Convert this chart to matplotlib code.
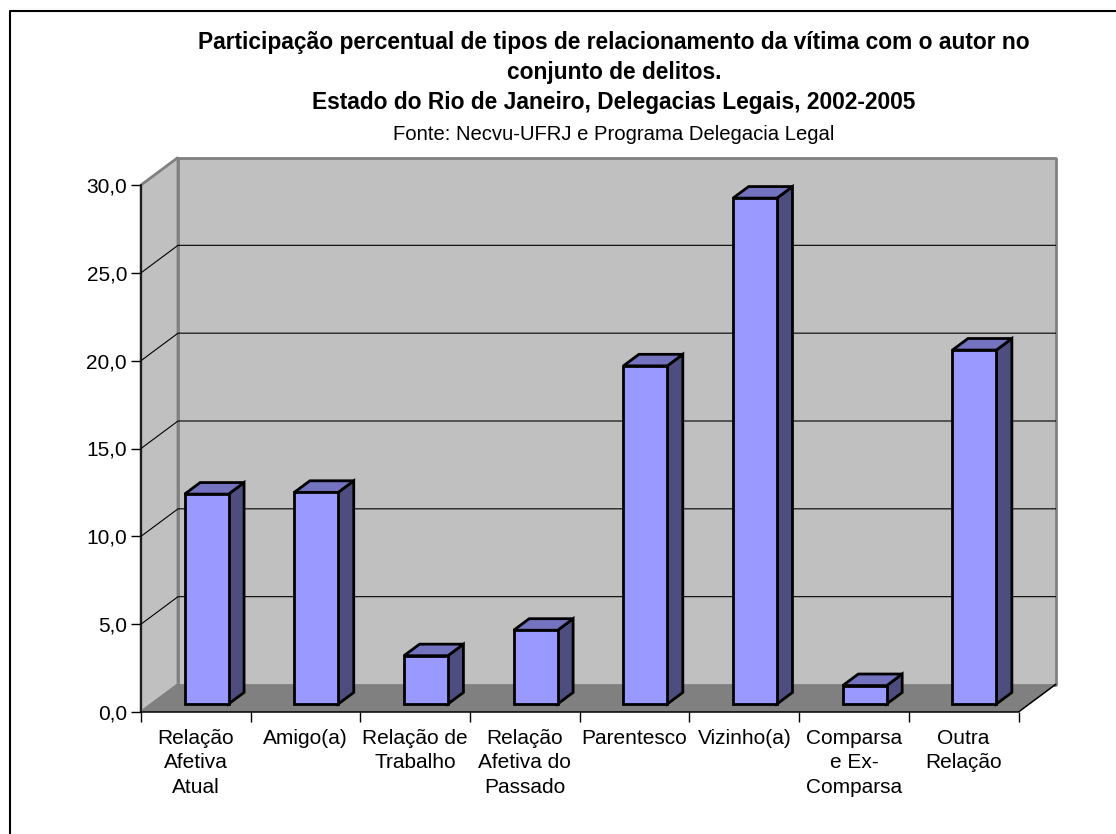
import matplotlib
matplotlib.use("Agg")
import matplotlib.pyplot as plt
from matplotlib.patches import Polygon

plt.rcParams['font.family'] = ['Liberation Sans', 'DejaVu Sans']

categories = ["Relação\nAfetiva\nAtual", "Amigo(a)", "Relação de\nTrabalho",
              "Relação\nAfetiva do\nPassado", "Parentesco", "Vizinho(a)",
              "Comparsa\ne Ex-\nComparsa", "Outra\nRelação"]
values = [11.95, 12.05, 2.75, 4.2, 19.25, 28.8, 1.05, 20.15]
yticks = [0, 5, 10, 15, 20, 25, 30]
title_lines = ["Participação percentual de tipos de relacionamento da vítima com o autor no",
               "conjunto de delitos.",
               "Estado do Rio de Janeiro, Delegacias Legais, 2002-2005"]
source = "Fonte: Necvu-UFRJ e Programa Delegacia Legal"

W, H = 1116, 834
fig = plt.figure(figsize=(W/100, H/100), dpi=100, facecolor='white')
# outer frame: only left and top edges are visible in the crop
fig.add_artist(plt.Line2D([10/W, 10/W, 1], [0, 1-11/H, 1-11/H], transform=fig.transFigure,
                          color='black', lw=1.5))
L, R, B, T = 141, 1018.5, 712, 185
ax = fig.add_axes([L/W, 1-B/H, (R-L)/W, (B-T)/H])
ax.set_xlim(0, 8); ax.set_ylim(0, 30)
ax.patch.set_visible(False)
for s in ax.spines.values():
    s.set_visible(False)

DX = 37/((R-L)/8)      # depth in category units
DY = 27.5/((B-T)/30)   # depth in value units

def add(pts, **kw):
    ax.add_patch(Polygon(pts, closed=True, clip_on=False, **kw))

wall = '#c0c0c0'; edge = '#808080'
add([(0, 0), (8, 0), (8+DX, DY), (DX, DY)], fc='#808080', ec='none', zorder=1)
add([(0, 0), (DX, DY), (DX, 30+DY), (0, 30)], fc=wall, ec=edge, lw=2.0, joinstyle='bevel', zorder=1)
add([(DX, DY), (8+DX, DY), (8+DX, 30+DY), (DX, 30+DY)], fc=wall, ec=edge, lw=2.0, joinstyle='bevel', zorder=1)
for v in yticks[1:-1]:
    ax.plot([0, DX, 8+DX], [v, v+DY, v+DY], color='black', lw=0.8, zorder=2, clip_on=False)
ax.plot([0, 0], [0, 30], color='black', lw=1.1, zorder=3, clip_on=False)
ax.plot([0, 8, 8+DX], [0, 0, DY], color='black', lw=1.1, zorder=3, clip_on=False)

bw = 0.4
d0, d1 = 0.29, 0.71
for i, v in enumerate(values):
    x0 = i + 0.5 - bw/2 + d0*DX
    x1 = x0 + bw
    y0 = d0*DY
    y1 = y0 + v
    ddx, ddy = (d1-d0)*DX, (d1-d0)*DY
    kw = dict(ec='black', lw=2.0, joinstyle='miter', zorder=4)
    add([(x1, y0), (x1+ddx, y0+ddy), (x1+ddx, y1+ddy), (x1, y1)], fc='#4d4d80', **kw)
    add([(x0, y1), (x1, y1), (x1+ddx, y1+ddy), (x0+ddx, y1+ddy)], fc='#7373bf', **kw)
    add([(x0, y0), (x1, y0), (x1, y1), (x0, y1)], fc='#9999ff', **kw)

ax.set_xticks(range(9)); ax.set_xticklabels([])
ax.set_yticks(yticks)
ax.set_yticklabels([f"{v},0" for v in yticks], fontsize=15)
ax.tick_params(axis='y', length=7, width=1, pad=3)
ax.tick_params(axis='x', length=7.5, width=1)
for i, c in enumerate(categories):
    ax.annotate(c, (i+0.5, 0), xytext=(0, -12), textcoords='offset points',
                ha='center', va='top', fontsize=15, linespacing=1.38)

cx = 614/W
for line, y in zip(title_lines, [42, 72, 103]):
    fig.text(cx, 1-y/H, line, ha='center', va='center', fontsize=16.4, fontweight='bold')
fig.text(cx, 1-135/H, source, ha='center', va='center', fontsize=14.6)

fig.savefig('out.png', dpi=100)
